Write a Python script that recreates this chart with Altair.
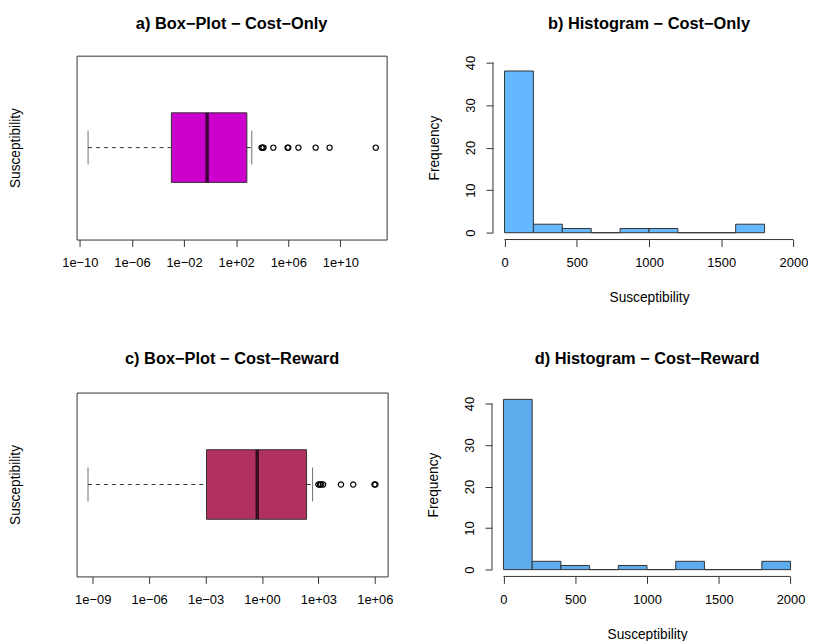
import altair as alt
import pandas as pd

FONT = "Liberation Sans"

# ---------------- data ----------------
box_stat_names = ["lower", "q1", "median", "q3", "upper"]

# a) Cost-Only box-plot statistics and outliers
cost_only_box = [4.3e-10, 1.07e-3, 0.59, 661, 1585]
cost_only_outliers = [8900, 10500, 12600, 71000, 890000, 1000000, 6000000, 1.26e8, 1.48e9, 5.2e12]
cost_only_ticks = [1e-10, 1e-6, 1e-2, 1e2, 1e6, 1e10]
cost_only_domain = [10 ** -10.25, 10 ** 13.55]

# c) Cost-Reward box-plot statistics and outliers
cost_reward_box = [5.6e-10, 1.12e-3, 0.56, 234, 490]
cost_reward_outliers = [1000, 1200, 1410, 1780, 15800, 70800, 955000, 1070000]
cost_reward_ticks = [1e-9, 1e-6, 1e-3, 1e0, 1e3, 1e6]
cost_reward_domain = [10 ** -9.86, 10 ** 6.68]

# b) / d) histograms
bin_edges = [0, 200, 400, 600, 800, 1000, 1200, 1400, 1600, 1800, 2000]
cost_only_counts = [38, 2, 1, 0, 1, 1, 0, 0, 2]
cost_reward_counts = [41, 2, 1, 0, 1, 0, 2, 0, 0, 2]
hist_x_ticks = [0, 500, 1000, 1500, 2000]
hist_y_ticks = [0, 10, 20, 30, 40]
hist_x_domain = [-80, 2080]
cost_only_y_domain = [-1.6, 41.6]
cost_reward_y_domain = [-1.64, 42.64]

# ---------------- styling ----------------
INK = "#333333"
LABEL_SIZE = 13
AXIS_TITLE_SIZE = 13.8
TITLE_SIZE = 16.5

LOG_LABEL = ("'1e' + (round(log(datum.value)/LN10) < 0 ? '\u2212' : '+') + "
             "(abs(round(log(datum.value)/LN10)) < 10 ? '0' : '') + "
             "abs(round(log(datum.value)/LN10))")


def make_title(text, offset):
    return alt.TitleParams(text=text, font=FONT, fontSize=TITLE_SIZE, fontWeight="bold",
                           color="black", anchor="middle", frame="group", offset=offset)


def boxplot(stats, outliers, ticks, domain, color, title, width, title_offset):
    row = dict(zip(box_stat_names, stats))
    row["grp"] = "Susceptibility"
    df = pd.DataFrame([row])
    odf = pd.DataFrame({"value": outliers, "grp": "Susceptibility"})

    xscale = alt.Scale(type="log", domain=domain, nice=False)
    xaxis = alt.Axis(values=ticks, labelExpr=LOG_LABEL, title=None, domain=False, grid=False,
                     tickSize=7, tickColor=INK, tickWidth=1, labelFont=FONT,
                     labelFontSize=LABEL_SIZE, labelColor="black", labelPadding=10,
                     labelOverlap=False, labelFlush=False)
    yenc = alt.Y("grp:N", title="Susceptibility",
                 axis=alt.Axis(labels=False, ticks=False, domain=False, grid=False,
                               titleFont=FONT, titleFontSize=AXIS_TITLE_SIZE,
                               titleFontWeight="normal", titleColor="black", titlePadding=54))
    base = alt.Chart(df)
    whisk_lo = base.mark_rule(strokeDash=[4, 4], color=INK, strokeWidth=1).encode(
        x=alt.X("lower:Q", scale=xscale, axis=xaxis), x2="q1:Q", y=yenc)
    whisk_hi = base.mark_rule(strokeDash=[4, 4], color=INK, strokeWidth=1).encode(
        x=alt.X("q3:Q"), x2="upper:Q", y=alt.Y("grp:N"))
    caps = base.transform_fold(["lower", "upper"], as_=["stat", "v"]).mark_tick(
        size=34, thickness=1, color=INK).encode(x=alt.X("v:Q"), y=alt.Y("grp:N"))
    box = base.mark_bar(size=70, color=color, stroke=INK, strokeWidth=1).encode(
        x=alt.X("q1:Q"), x2="q3:Q", y=alt.Y("grp:N"))
    med = base.mark_tick(size=70, thickness=3.5, color="black").encode(
        x=alt.X("median:Q"), y=alt.Y("grp:N"))
    out = alt.Chart(odf).mark_point(shape="circle", size=28, filled=False, color="black",
                                    strokeWidth=1.2, opacity=1).encode(
        x=alt.X("value:Q"), y=alt.Y("grp:N"))
    return alt.layer(whisk_lo, whisk_hi, caps, box, med, out).properties(
        width=width, height=185, title=make_title(title, title_offset),
        view=alt.ViewBackground(stroke=INK, strokeWidth=1))


def histogram(counts, color, title, width, ydomain, title_offset):
    df = pd.DataFrame({"start": bin_edges[:len(counts)],
                       "end": bin_edges[1:len(counts) + 1],
                       "count": counts})
    xscale = alt.Scale(domain=hist_x_domain, nice=False, zero=False)
    yscale = alt.Scale(domain=ydomain, nice=False, zero=False)
    xaxis = alt.Axis(values=hist_x_ticks, format="d", title="Susceptibility", domain=False,
                     grid=False, tickSize=7, tickColor=INK, labelFont=FONT,
                     labelFontSize=LABEL_SIZE, labelColor="black", labelPadding=10,
                     labelOverlap=False, labelFlush=False,
                     titleFont=FONT, titleFontSize=AXIS_TITLE_SIZE, titleFontWeight="normal",
                     titleColor="black", titlePadding=21)
    yaxis = alt.Axis(values=hist_y_ticks, format="d", title="Frequency", domain=False,
                     grid=False, tickSize=7, tickColor=INK, labelFont=FONT,
                     labelFontSize=LABEL_SIZE, labelColor="black", labelPadding=9,
                     labelAngle=-90, labelAlign="center", labelBaseline="bottom",
                     labelOverlap=False, labelFlush=False,
                     titleFont=FONT, titleFontSize=AXIS_TITLE_SIZE, titleFontWeight="normal",
                     titleColor="black", titlePadding=23)
    bars = alt.Chart(df).mark_rect(color=color, stroke=INK, strokeWidth=1).encode(
        x=alt.X("start:Q", scale=xscale, axis=xaxis), x2="end:Q",
        y=alt.Y("count:Q", scale=yscale, axis=yaxis), y2=alt.datum(0))
    xline = alt.Chart(pd.DataFrame({"a": [min(hist_x_ticks)], "b": [max(hist_x_ticks)]})).mark_rule(
        color=INK, strokeWidth=1).encode(x=alt.X("a:Q"), x2="b:Q", y=alt.value(185))
    yline = alt.Chart(pd.DataFrame({"a": [min(hist_y_ticks)], "b": [max(hist_y_ticks)]})).mark_rule(
        color=INK, strokeWidth=1).encode(y=alt.Y("a:Q"), y2="b:Q", x=alt.value(0))
    return alt.layer(bars, xline, yline).properties(
        width=width, height=185, title=make_title(title, title_offset),
        view=alt.ViewBackground(stroke="transparent", strokeWidth=0))


pa = boxplot(cost_only_box, cost_only_outliers, cost_only_ticks, cost_only_domain, "#CC00CC",
             "a) Box\u2212Plot \u2212 Cost\u2212Only", 312, 23)
pb = histogram(cost_only_counts, "#63B8FF", "b) Histogram \u2212 Cost\u2212Only", 314,
               cost_only_y_domain, 23)
pc = boxplot(cost_reward_box, cost_reward_outliers, cost_reward_ticks, cost_reward_domain, "#B03060",
             "c) Box\u2212Plot \u2212 Cost\u2212Reward", 313, 25)
pd_ = histogram(cost_reward_counts, "#5CACEE", "d) Histogram \u2212 Cost\u2212Reward", 312,
                cost_reward_y_domain, 25)

row1 = alt.hconcat(pa, pb, spacing=40)
row2 = alt.hconcat(pc, pd_, spacing=33)
chart = alt.vconcat(row1, row2, spacing=47).properties(
    padding={"left": 0, "top": 6, "right": 0, "bottom": 0}
).configure_view(strokeWidth=0).configure(background="white")

chart.save("out.html", embed_options={"renderer": "svg", "actions": False})
